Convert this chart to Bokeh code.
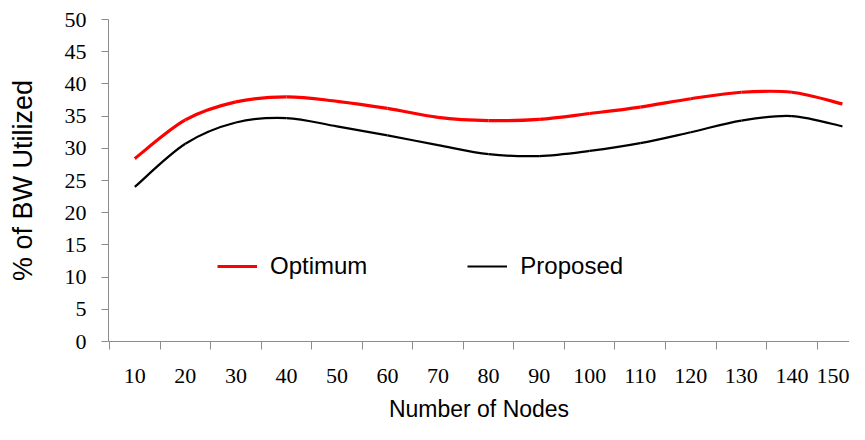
from bokeh.plotting import figure
from bokeh.models import Range1d, FixedTicker, Legend, LegendItem, ColumnDataSource
from bokeh.embed import file_html
from bokeh.resources import INLINE
import numpy as np

# ---- data ----
nodes = [10, 20, 30, 40, 50, 60, 70, 80, 90, 100, 110, 120, 130, 140, 150]
optimum = [28.4, 34.4, 37.2, 38.0, 37.3, 36.2, 34.8, 34.3, 34.5, 35.4, 36.4, 37.7, 38.7, 38.7, 36.9]
proposed = [24.0, 30.7, 34.0, 34.7, 33.4, 32.0, 30.5, 29.1, 28.8, 29.6, 30.8, 32.5, 34.3, 35.0, 33.4]
y_ticks = list(range(0, 51, 5))

# category centres on a numeric axis (one unit per category)
xc = np.arange(len(nodes)) + 0.5


def smooth_segments(x, y):
    """Bezier control points for a smoothed line through the points."""
    x = np.asarray(x, float)
    y = np.asarray(y, float)
    n = len(x)
    xp = np.concatenate([[x[0]], x, [x[-1]]])
    yp = np.concatenate([[y[0]], y, [y[-1]]])
    d = {}
    d["x0"] = x[:-1]; d["y0"] = y[:-1]
    d["x1"] = x[1:]; d["y1"] = y[1:]
    d["cx0"] = x[:-1] + (xp[2:n + 1] - xp[0:n - 1]) / 6.0
    d["cy0"] = y[:-1] + (yp[2:n + 1] - yp[0:n - 1]) / 6.0
    d["cx1"] = x[1:] - (xp[3:n + 2] - xp[1:n]) / 6.0
    d["cy1"] = y[1:] - (yp[3:n + 2] - yp[1:n]) / 6.0
    return ColumnDataSource(d)


p = figure(width=849, height=424, output_backend="svg", toolbar_location=None,
           x_range=Range1d(-0.02, 14.64), y_range=Range1d(0, 50),
           min_border_left=108, min_border_right=0, min_border_top=19,
           min_border_bottom=80)
p.outline_line_color = None
p.xgrid.visible = False
p.ygrid.visible = False
p.background_fill_color = "white"
p.border_fill_color = "white"

src_o = smooth_segments(xc, optimum)
src_p = smooth_segments(xc, proposed)
r_o = p.bezier(x0="x0", y0="y0", x1="x1", y1="y1", cx0="cx0", cy0="cy0",
               cx1="cx1", cy1="cy1", source=src_o, line_color="#FF0000", line_width=3.2)
r_p = p.bezier(x0="x0", y0="y0", x1="x1", y1="y1", cx0="cx0", cy0="cy0",
               cx1="cx1", cy1="cy1", source=src_p, line_color="#000000", line_width=2.2)

axis_col = "#8C8C8C"
tick_font = "Liberation Serif"
sans = "Liberation Sans"

# x axis: labels at centres, tick marks at category boundaries
xa = p.xaxis[0]
xa.ticker = FixedTicker(ticks=list(xc), minor_ticks=list(np.arange(0, len(nodes) + 1)))
xa.major_label_overrides = {float(c): str(n) for c, n in zip(xc, nodes)}
xa.major_tick_out = 0
xa.major_tick_in = 0
xa.minor_tick_out = 8
xa.minor_tick_in = 0
xa.minor_tick_line_color = axis_col
xa.axis_line_color = axis_col
xa.major_label_text_font = tick_font
xa.major_label_text_font_size = "22px"
xa.major_label_text_color = "#000000"
xa.major_label_standoff = 19
xa.axis_label = "Number of Nodes"
xa.axis_label_text_font = sans
xa.axis_label_text_font_size = "23px"
xa.axis_label_text_font_style = "normal"
xa.axis_label_text_color = "#000000"
xa.axis_label_standoff = 10

ya = p.yaxis[0]
ya.ticker = FixedTicker(ticks=y_ticks, minor_ticks=[])
ya.major_tick_out = 7
ya.major_tick_in = 0
ya.major_tick_line_color = axis_col
ya.axis_line_color = axis_col
ya.major_label_text_font = tick_font
ya.major_label_text_font_size = "22px"
ya.major_label_text_color = "#000000"
ya.major_label_standoff = 15
ya.axis_label = "% of BW Utilized"
ya.axis_label_text_font = sans
ya.axis_label_text_font_size = "27px"
ya.axis_label_text_font_style = "normal"
ya.axis_label_text_color = "#000000"
ya.axis_label_standoff = 24

legend = Legend(items=[LegendItem(label="Optimum", renderers=[r_o]),
                       LegendItem(label="Proposed", renderers=[r_p])],
                location=(109, 61), orientation="horizontal",
                border_line_color=None, background_fill_alpha=0,
                padding=0, margin=0, spacing=100,
                glyph_width=40, glyph_height=24, label_height=24,
                label_standoff=13,
                label_text_font=sans, label_text_font_size="24px",
                label_text_color="#000000")
p.add_layout(legend, "center")

open("out.html", "w").write(file_html(p, INLINE))
